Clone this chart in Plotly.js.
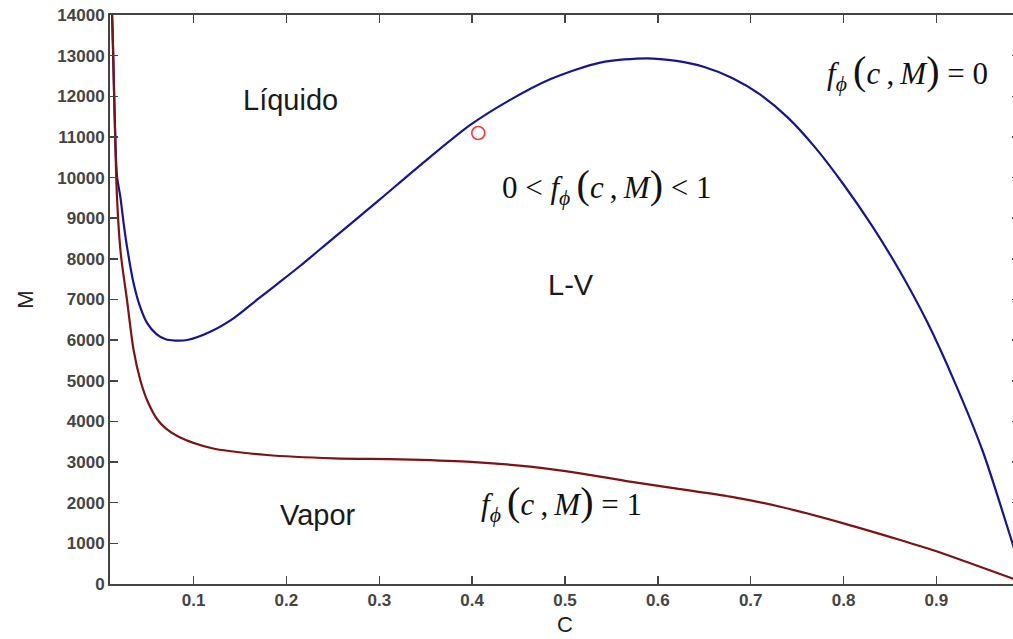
<!DOCTYPE html>
<html>
<head>
<meta charset="utf-8">
<script src="https://cdn.plot.ly/plotly-3.0.1.min.js"></script>
<style>
  html, body { margin: 0; padding: 0; background: #fff; overflow: hidden; }
  #chart { width: 1022px; height: 639px; }
</style>
</head>
<body>
<div id="chart"></div>
<script>
// Upper boundary f_phi(c,M) = 0 (liquid / two-phase)
const cLiquid = [0.0105, 0.0122, 0.0150, 0.0175, 0.0211, 0.0247, 0.0283, 0.0354, 0.042, 0.050, 0.060, 0.070, 0.080, 0.093,
                 0.118, 0.143, 0.168, 0.190, 0.215, 0.250, 0.300, 0.344, 0.398, 0.440, 0.484, 0.538, 0.588,
                 0.620, 0.650, 0.680, 0.710, 0.740, 0.770, 0.800, 0.830, 0.860, 0.890, 0.920, 0.950, 0.980, 0.986];
const mLiquid = [14600, 14000, 11600, 10040, 9530, 8875, 8300, 7399, 6850, 6420, 6150, 6020, 5990, 6004,
                 6208, 6537, 6988, 7380, 7830, 8500, 9450, 10300, 11294, 11900, 12420, 12830, 12935,
                 12870, 12720, 12450, 12045, 11475, 10725, 9830, 8835, 7720, 6450, 4950, 3260, 1140, 700];

// Lower boundary f_phi(c,M) = 1 (two-phase / vapour)
const cVapor = [0.0105, 0.0122, 0.0150, 0.0175, 0.0215, 0.0283, 0.0354, 0.0426, 0.050, 0.0606, 0.070, 0.0850, 0.120, 0.179,
                0.251, 0.3226, 0.3944, 0.4626, 0.5164, 0.570, 0.624, 0.678, 0.7317, 0.800, 0.861, 0.8968,
                0.9328, 0.9812, 0.9860];
const mVapor = [14600, 14000, 11500, 9530, 8150, 6988, 5757, 5020, 4520, 4060, 3830, 3610, 3339, 3174,
                3092, 3068, 3010, 2887, 2723, 2518, 2335, 2149, 1902, 1493, 1083, 830,
                540, 140, 100];

// Highlighted state point
const cPoint = [0.4066];
const mPoint = [11097];

const xTicks = [0.1, 0.2, 0.3, 0.4, 0.5, 0.6, 0.7, 0.8, 0.9];
const yTicks = [0, 1000, 2000, 3000, 4000, 5000, 6000, 7000, 8000, 9000, 10000, 11000, 12000, 13000, 14000];

// f_phi(c, M) written with tall parentheses
const fphi = '<i>f</i><sub><i>ϕ</i></sub>&#8201;<span style="font-size:40px">(</span><i>c</i>&#8201;,&#8201;<i>M</i><span style="font-size:40px">)</span>';

const traces = [
  { x: cLiquid, y: mLiquid, mode: 'lines', line: { color: '#16168e', width: 2.2, shape: 'spline', smoothing: 0.8 }, hoverinfo: 'skip' },
  { x: cVapor, y: mVapor, mode: 'lines', line: { color: '#7c1414', width: 2.2, shape: 'spline', smoothing: 0.8 }, hoverinfo: 'skip' },
  { x: cPoint, y: mPoint, mode: 'markers',
    marker: { symbol: 'circle-open', size: 13, color: '#f23a3a', line: { width: 1.6, color: '#f23a3a' } },
    hoverinfo: 'skip' }
];

const sansLabel = { family: 'Liberation Sans, Arial, sans-serif', size: 29, color: '#1a1a1a' };
const serifLabel = { family: 'Liberation Serif, Times New Roman, serif', size: 31, color: '#111' };

const layout = {
  width: 1022, height: 639,
  margin: { l: 110, r: 2, t: 15, b: 55 },
  paper_bgcolor: '#fff', plot_bgcolor: '#fff',
  showlegend: false,
  xaxis: {
    range: [0.01, 0.99],
    tickvals: xTicks, ticktext: xTicks.map(v => v.toFixed(1)),
    ticks: 'inside', ticklen: 8, tickwidth: 1.5, tickcolor: '#444',
    showline: true, linecolor: '#444', linewidth: 2, mirror: 'ticks',
    showgrid: false, zeroline: false,
    tickfont: { family: 'Liberation Sans, Arial, sans-serif', size: 17, color: '#444', weight: 700 },
    title: { text: 'C', font: { family: 'Liberation Sans, Arial, sans-serif', size: 22, color: '#222' }, standoff: 7 }
  },
  yaxis: {
    range: [0, 14000],
    tickvals: yTicks, ticktext: yTicks.map(String),
    ticks: 'inside', ticklen: 8, tickwidth: 1.5, tickcolor: '#444',
    showline: true, linecolor: '#444', linewidth: 2, mirror: 'ticks',
    showgrid: false, zeroline: false,
    tickfont: { family: 'Liberation Sans, Arial, sans-serif', size: 17, color: '#444', weight: 700 },
    title: { text: 'M', font: { family: 'Liberation Sans, Arial, sans-serif', size: 22, color: '#222' }, standoff: 18 }
  },
  annotations: [
    { x: 0.204, y: 11909, text: 'Líquido', showarrow: false, font: sansLabel },
    { x: 0.506, y: 7357, text: 'L-V', showarrow: false, font: sansLabel },
    { x: 0.234, y: 1698, text: 'Vapor', showarrow: false, font: sansLabel },
    { x: 0.869, y: 12600, text: fphi + ' = 0', showarrow: false, font: serifLabel },
    { x: 0.5445, y: 9800, text: '0 &lt; ' + fphi + ' &lt; 1', showarrow: false, font: serifLabel },
    { x: 0.496, y: 2000, text: fphi + ' = 1', showarrow: false, font: serifLabel }
  ]
};

Plotly.newPlot('chart', traces, layout, { displayModeBar: false, staticPlot: true });
</script>
</body>
</html>
